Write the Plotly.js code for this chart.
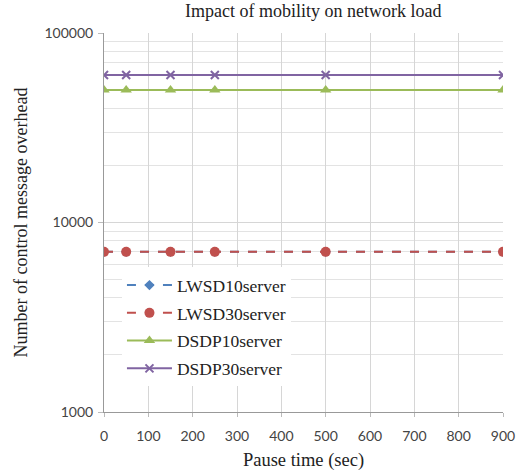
<!DOCTYPE html>
<html>
<head>
<meta charset="utf-8">
<script src="https://cdn.plot.ly/plotly-3.0.1.min.js"></script>
<style>html,body{margin:0;padding:0;background:#fff;}#chart{width:516px;height:475px;}</style>
</head>
<body>
<div id="chart"></div>
<script>
const pauseTime = [0, 50, 150, 250, 500, 900];
const lwsd10 = [7000, 7000, 7000, 7000, 7000, 7000];
const lwsd30 = [7000, 7000, 7000, 7000, 7000, 7000];
const dsdp10 = [50000, 50000, 50000, 50000, 50000, 50000];
const dsdp30 = [60000, 60000, 60000, 60000, 60000, 60000];
const seriesNames = ['LWSD10server', 'LWSD30server', 'DSDP10server', 'DSDP30server'];
const xTicks = [0, 100, 200, 300, 400, 500, 600, 700, 800, 900];
const yTicks = [1000, 10000, 100000];

const serif = 'Liberation Serif, DejaVu Serif, serif';
const sans = 'Lato, Liberation Sans, sans-serif';

const traces = [
  {x: pauseTime, y: lwsd10, name: seriesNames[0], legendgroup: 'a', mode: 'lines+markers',
   line: {color: '#4F81BD', width: 2, dash: 'dash'}, marker: {symbol: 'diamond', size: 8, color: '#4F81BD'}},
  {x: pauseTime, y: lwsd30, name: seriesNames[1], legendgroup: 'b', mode: 'lines+markers',
   line: {color: '#C0504D', width: 2, dash: 'dash'}, marker: {symbol: 'circle', size: 10, color: '#C0504D'}},
  {x: pauseTime, y: dsdp10, name: seriesNames[2], legendgroup: 'c', mode: 'lines+markers',
   line: {color: '#9BBB59', width: 2}, marker: {symbol: 'triangle-up', size: 10, color: '#9BBB59'}},
  {x: pauseTime, y: dsdp30, name: seriesNames[3], legendgroup: 'd', mode: 'lines+markers',
   line: {color: '#8064A2', width: 2}, marker: {symbol: 'x-thin', size: 8, color: '#8064A2', line: {color: '#8064A2', width: 2}}}
];

const layout = {
  width: 516, height: 475,
  margin: {l: 104, r: 13, t: 33, b: 63},
  paper_bgcolor: '#fff', plot_bgcolor: '#fff',
  title: {text: 'Impact of mobility on network load', font: {family: serif, size: 18, color: '#222'}, x: 0.607, xanchor: 'center', y: 0.99, yanchor: 'top'},
  showlegend: true,
  legend: {x: 0.045, y: 0.382, xanchor: 'left', yanchor: 'top', bgcolor: '#fff', borderwidth: 0,
           font: {family: serif, size: 17.5, color: '#222'}, itemwidth: 45, tracegroupgap: 2},
  xaxis: {
    range: [0, 900], tickvals: xTicks, ticktext: xTicks.map(String),
    showgrid: true, gridcolor: '#d6d6d6', zeroline: false,
    showline: true, linecolor: '#999', ticks: 'outside', ticklen: 4, tickcolor: '#bbb',
    ticklabelstandoff: 7,
    tickfont: {family: sans, size: 14, color: '#444'},
    title: {text: 'Pause time (sec)', font: {family: serif, size: 18.5, color: '#222'}, standoff: 10}
  },
  yaxis: {
    type: 'log', range: [3, 5], tickvals: yTicks, ticktext: yTicks.map(String),
    showgrid: true, gridcolor: '#d6d6d6', zeroline: false,
    showline: true, linecolor: '#999', ticks: 'outside', ticklen: 5, tickcolor: '#bbb',
    ticklabelstandoff: 2,
    tickfont: {family: sans, size: 14, color: '#444'},
    minor: {dtick: 'D1', showgrid: true, gridcolor: '#e3e3e3', ticks: ''},
    title: {text: 'Number of control message overhead', font: {family: serif, size: 18, color: '#222'}, standoff: 12}
  }
};

Plotly.newPlot('chart', traces, layout, {displayModeBar: false, staticPlot: true});
</script>
</body>
</html>
